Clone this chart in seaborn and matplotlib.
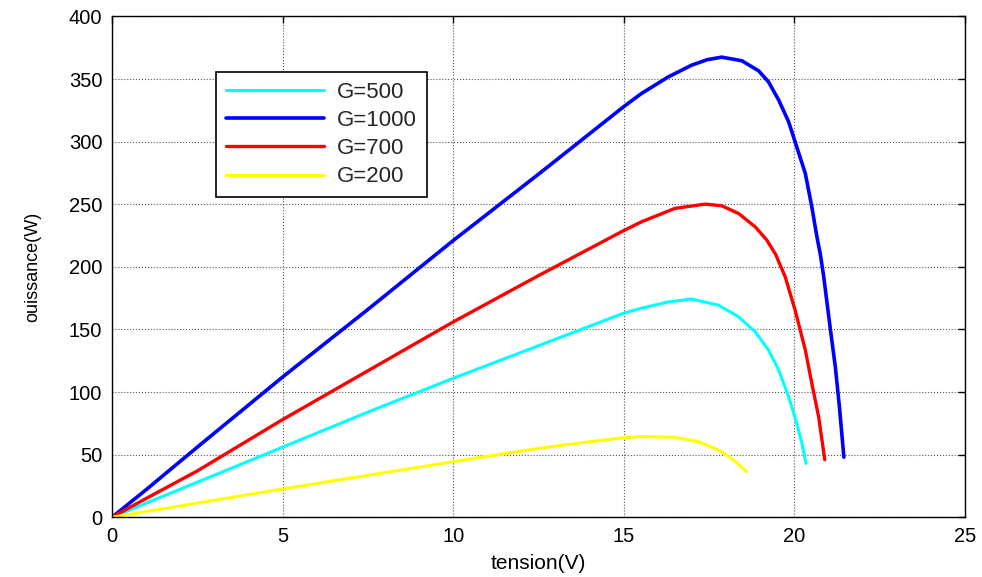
import pandas as pd
import matplotlib
matplotlib.use("Agg")
import matplotlib.pyplot as plt
import seaborn as sns

# curve points (tension V, puissance W)
v_500 = [0, 2.5, 5, 7.5, 10, 12.5, 15, 15.52, 16.3, 16.99, 17.77, 18.36, 18.85,
         19.24, 19.54, 19.83, 20.07, 20.22, 20.34]
p_500 = [0, 28, 56, 84, 111, 137, 163, 167, 172, 174.3, 169.5, 160.2, 148.2,
         133.6, 117.6, 96.3, 75, 59, 43]

v_1000 = [0, 0.5, 1, 2.5, 5, 7.5, 8.5, 10, 12.5, 15, 15.52, 16.31, 16.99, 17.45,
          17.87, 18.46, 18.95, 19.24, 19.54, 19.83, 20.02, 20.32, 20.51, 20.66,
          20.76, 20.86, 21.05, 21.2, 21.32, 21.45]
p_1000 = [0, 11, 22, 56, 112, 166, 188, 221, 274, 328, 338.5, 351.8, 361.1, 365.5,
          367.5, 364.6, 356.6, 347.8, 333.2, 315.9, 299.9, 274.6, 248, 224,
          210, 192, 151, 120, 88, 48]

v_700 = [0, 1, 2.5, 5, 7.5, 10, 12.5, 15, 15.52, 16.5, 17.38, 17.87, 18.36, 18.85,
         19.19, 19.45, 19.73, 20.02, 20.32, 20.51, 20.71, 20.89]
p_700 = [0, 15, 37, 78, 117, 156, 193, 229, 236, 246.7, 250.1, 248.8, 242.7, 232,
         221.4, 210, 192.1, 165.5, 133.6, 107, 80.3, 46]

v_200 = [0, 2.5, 5, 7.5, 10, 12.5, 14, 15, 15.52, 16.5, 17.19, 17.77, 18.16, 18.6]
p_200 = [0, 11.3, 22.6, 33.5, 44.4, 55, 60.4, 63.5, 64.4, 63.9, 60.4, 53.7, 47.1, 36.4]

labels = ["G=500", "G=1000", "G=700", "G=200"]
colors = ["cyan", "blue", "red", "yellow"]
widths = [2.2, 2.6, 2.4, 2.2]
curves = [(v_500, p_500), (v_1000, p_1000), (v_700, p_700), (v_200, p_200)]

x_ticks = [0, 5, 10, 15, 20, 25]
y_ticks = [0, 50, 100, 150, 200, 250, 300, 350, 400]

sns.set_style("whitegrid")
plt.rcParams['font.family'] = ['Liberation Sans', 'DejaVu Sans']

fig = plt.figure(figsize=(9.82, 5.77), dpi=100)
ax = fig.add_axes([0.114, 0.1035, 0.8687, 0.868])

for (v, p), lab, col, lw in zip(curves, labels, colors, widths):
    sns.lineplot(x=v, y=p, ax=ax, color=col, lw=lw, label=lab, sort=False,
                 solid_joinstyle='round')

ax.set_xlim(0, 25)
ax.set_ylim(0, 400)
ax.set_xticks(x_ticks)
ax.set_yticks(y_ticks)
ax.grid(True, linestyle=':', color='#555555', linewidth=0.8)

for s in ax.spines.values():
    s.set_color('black')
    s.set_linewidth(1.0)
ax.tick_params(direction='in', length=5, width=1, top=True, right=True,
               labelsize=14.5, colors='black', pad=7)

ax.set_xlabel('tension(V)', fontsize=15, color='black', labelpad=6)
ax.set_ylabel('ouissance(W)', fontsize=13, color='black', labelpad=20)

leg = ax.legend(loc='upper left', bbox_to_anchor=(0.122, 0.889), fontsize=16,
                handlelength=4.4, handletextpad=0.6, labelspacing=0.32,
                borderpad=0.45, borderaxespad=0, fancybox=False, framealpha=1,
                edgecolor='black')
leg.get_frame().set_linewidth(1.2)

plt.savefig('out.png', dpi=100)
